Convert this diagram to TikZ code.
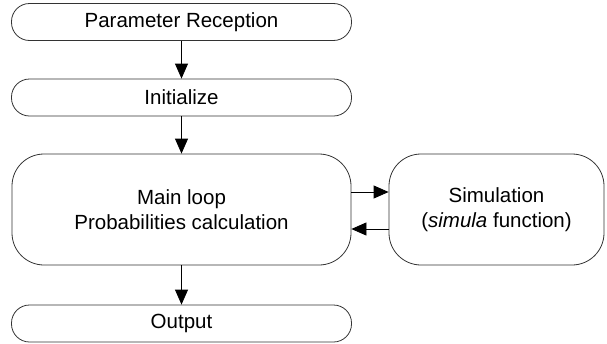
\documentclass[tikz,border=0pt]{standalone}
\usepackage{fontspec}
\setmainfont{Liberation Sans}
\usetikzlibrary{arrows.meta}
\tikzset{
  pill/.style={draw=black!80, line width=0.8pt, rounded corners=18pt, minimum width=340pt, minimum height=37pt, inner sep=0pt, align=center, font=\fontsize{20.5}{25}\selectfont},
  bigbox/.style={draw=black!80, line width=0.8pt, rounded corners=32pt, minimum height=111pt, inner sep=0pt, align=center, font=\fontsize{20.5}{25}\selectfont},
  conn/.style={draw=black, line width=0.8pt, -{Triangle[length=15pt,width=13pt]}}
}
\begin{document}
\begin{tikzpicture}[x=1pt,y=1pt]
\useasboundingbox (0,0) rectangle (607,-343);
\node[pill] (pr) at (181.5,-22) {Parameter Reception};
\node[pill] (init) at (181.5,-97.5) {Initialize};
\node[bigbox, minimum width=339pt] (main) at (181.5,-209.5) {Main loop\\Probabilities calculation};
\node[bigbox, minimum width=215pt] (sim) at (496.5,-209.5) {Simulation\\(\textit{simula} function)};
\node[pill] (out) at (181.5,-323.5) {Output};
\draw[conn] (pr) -- (init);
\draw[conn] (init) -- (main);
\draw[conn] (main) -- (out);
\draw[conn] ([yshift=17.5pt]main.east) -- ([yshift=17.5pt]sim.west);
\draw[conn] ([yshift=-19.5pt]sim.west) -- ([yshift=-19.5pt]main.east);
\end{tikzpicture}
\end{document}
